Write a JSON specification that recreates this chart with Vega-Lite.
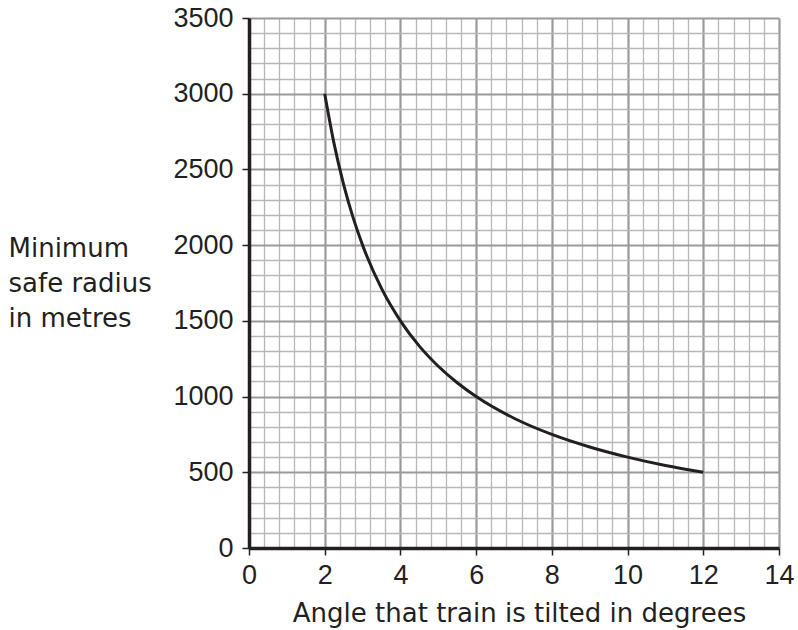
{
  "$schema": "https://vega.github.io/schema/vega-lite/v6.json",
  "width": 530,
  "height": 530,
  "autosize": {"type": "none"},
  "padding": {"left": 249, "top": 18, "right": 19, "bottom": 82},
  "background": "white",
  "config": {
    "view": {"stroke": null},
    "font": "Liberation Sans",
    "axis": {
      "labelFont": "Liberation Sans",
      "titleFont": "DejaVu Sans",
      "labelFontSize": 27,
      "titleFontSize": 26,
      "labelColor": "#231f20",
      "titleColor": "#231f20",
      "titleFontWeight": "normal",
      "domainColor": "#231f20",
      "domainWidth": 3.5,
      "tickColor": "#231f20",
      "tickWidth": 1.5,
      "tickSize": 7,
      "gridOpacity": 1
    }
  },
  "data": {
    "values": [
      {"angle": 2, "radius": 3000},
      {"angle": 2.25, "radius": 2667},
      {"angle": 2.5, "radius": 2400},
      {"angle": 2.75, "radius": 2182},
      {"angle": 3, "radius": 2000},
      {"angle": 3.5, "radius": 1714},
      {"angle": 4, "radius": 1500},
      {"angle": 4.5, "radius": 1333},
      {"angle": 5, "radius": 1200},
      {"angle": 5.5, "radius": 1091},
      {"angle": 6, "radius": 1000},
      {"angle": 7, "radius": 857},
      {"angle": 8, "radius": 750},
      {"angle": 9, "radius": 667},
      {"angle": 10, "radius": 600},
      {"angle": 11, "radius": 545},
      {"angle": 12, "radius": 500}
    ]
  },
  "mark": {"type": "line", "color": "#231f20", "strokeWidth": 3, "interpolate": "monotone", "clip": false},
  "encoding": {
    "x": {
      "field": "angle",
      "type": "quantitative",
      "scale": {"domain": [0, 14], "nice": false, "zero": false},
      "axis": {
        "values": [0, 0.4, 0.8, 1.2, 1.6, 2, 2.4, 2.8, 3.2, 3.6, 4, 4.4, 4.8, 5.2, 5.6, 6, 6.4, 6.8, 7.2, 7.6, 8, 8.4, 8.8, 9.2, 9.6, 10, 10.4, 10.8, 11.2, 11.6, 12, 12.4, 12.8, 13.2, 13.6, 14],
        "grid": true,
        "gridColor": {"condition": {"test": "datum.value % 2 === 0 && datum.value > 0", "value": "#9a9a9a"}, "value": "#b8b8b8"},
        "gridWidth": {"condition": {"test": "datum.value % 2 === 0", "value": 2.2}, "value": 1.3},
        "tickOpacity": {"condition": {"test": "datum.value % 2 === 0", "value": 1}, "value": 0},
        "labelExpr": "datum.value % 2 === 0 ? format(datum.value, 'd') : ''",
        "labelPadding": 7,
        "labelOverlap": false,
        "labelFlush": false,
        "title": "Angle that train is tilted in degrees",
        "titleAlign": "center",
        "titleBaseline": "top",
        "titleX": 270,
        "titleY": 52
      }
    },
    "y": {
      "field": "radius",
      "type": "quantitative",
      "scale": {"domain": [0, 3500], "nice": false, "zero": false},
      "axis": {
        "values": [0, 100, 200, 300, 400, 500, 600, 700, 800, 900, 1000, 1100, 1200, 1300, 1400, 1500, 1600, 1700, 1800, 1900, 2000, 2100, 2200, 2300, 2400, 2500, 2600, 2700, 2800, 2900, 3000, 3100, 3200, 3300, 3400, 3500],
        "grid": true,
        "gridColor": {"condition": {"test": "datum.value % 500 === 0 && datum.value > 0", "value": "#9a9a9a"}, "value": "#b8b8b8"},
        "gridWidth": {"condition": {"test": "datum.value % 500 === 0", "value": 2.2}, "value": 1.3},
        "tickOpacity": {"condition": {"test": "datum.value % 500 === 0", "value": 1}, "value": 0},
        "labelExpr": "datum.value % 500 === 0 ? format(datum.value, 'd') : ''",
        "labelPadding": 9,
        "labelOverlap": false,
        "labelFlush": false,
        "title": ["Minimum", "safe radius", "in metres"],
        "titleAngle": 0,
        "titleAlign": "left",
        "titleBaseline": "top",
        "titleLineHeight": 35,
        "titleX": -241,
        "titleY": 217
      }
    }
  }
}
